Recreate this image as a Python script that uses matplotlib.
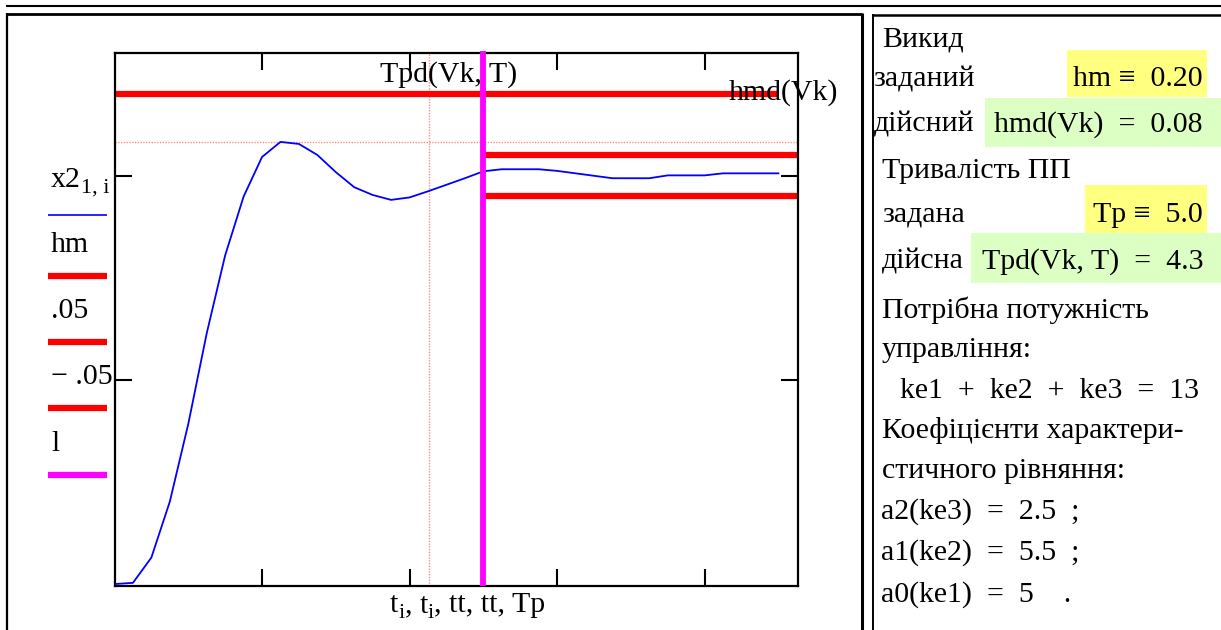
import matplotlib
matplotlib.use("Agg")
import matplotlib.pyplot as plt
from matplotlib.lines import Line2D
from matplotlib.patches import Rectangle

plt.rcParams['font.family'] = ['Liberation Serif', 'DejaVu Serif']
plt.rcParams['mathtext.fontset'] = 'custom'
plt.rcParams['mathtext.rm'] = 'Liberation Serif'
plt.rcParams['mathtext.it'] = 'Liberation Serif'

# ---------------- data ----------------
t = [0, 0.25, 0.5, 0.75, 1.0, 1.25, 1.5, 1.75, 2.0, 2.25, 2.5, 2.75, 3.0,
     3.25, 3.5, 3.75, 4.0, 4.25, 4.5, 4.75, 5.0, 5.25, 5.5, 5.75, 6.0,
     6.25, 6.5, 6.75, 7.0, 7.25, 7.5, 7.75, 8.0, 8.25, 8.5, 8.75, 9.0]
x2 = [0.0, 0.003, 0.065, 0.202, 0.392, 0.614, 0.805, 0.949, 1.046, 1.083,
      1.078, 1.051, 1.009, 0.972, 0.953, 0.941, 0.947, 0.962, 0.978, 0.994,
      1.011, 1.016, 1.016, 1.016, 1.012, 1.006, 1.000, 0.994, 0.994, 0.994,
      1.001, 1.001, 1.001, 1.006, 1.006, 1.006, 1.006]
hm = 0.20          # given overshoot
hmd = 0.082        # actual overshoot
Tp = 5.0           # given settling time
Tpd = 4.26         # actual settling time
band = 0.05
tt = [5.0, 9.27]
ke_sum = 13
a2, a1, a0 = 2.5, 5.5, 5

legend_labels = ['x2', 'hm', '.05', '\u2212 .05', 'l']
legend_subs = ['1, i', '', '', '', '']
legend_colors = ['#0000ff', '#ff0000', '#ff0000', '#ff0000', '#ff00ff']
legend_widths = [1.2, 4.5, 4.5, 4.5, 4.5]

W, H = 1221, 630
fig = plt.figure(figsize=(W / 100, H / 100), dpi=100)


def fx(x):
    return x / W


def fy(y):
    return 1 - y / H


def hline(x0, x1, y, lw, color='black'):
    fig.add_artist(Line2D([fx(x0), fx(x1)], [fy(y), fy(y)], lw=lw, color=color,
                          solid_capstyle='butt', transform=fig.transFigure))


def vline(x, y0, y1, lw, color='black'):
    fig.add_artist(Line2D([fx(x), fx(x)], [fy(y0), fy(y1)], lw=lw, color=color,
                          solid_capstyle='butt', transform=fig.transFigure))


# ---------------- frames ----------------
hline(6, W + 5, 6, 1.5)
hline(6, 862, 13.5, 2.0)
vline(7.5, 12.5, H + 5, 1.6)
vline(861.5, 12.5, H + 5, 2.2)
hline(872, W + 5, 15, 1.8)
vline(873, 14, H + 5, 1.4)

# ---------------- plot ----------------
L, R, T, B = 114.5, 798.3, 53.3, 585.7
ax = fig.add_axes([fx(L), fy(B), (R - L) / W, (B - T) / H])
ax.set_xlim(0, 9.27)
ax.set_ylim(-0.004, 1.30)

dot_color = '#ff8c8c'
ax.axvline(Tpd, color=dot_color, lw=1.0, ls=(0, (1, 1)), zorder=1)
ax.axhline(1 + hmd, color=dot_color, lw=1.0, ls=(0, (1, 1)), zorder=1)

ax.plot(t, x2, color='#0000ff', lw=1.3, zorder=3)
ax.plot([t[0], t[-1]], [1 + hm, 1 + hm], color='#ff0000', lw=4.5,
        solid_capstyle='butt', zorder=2)
ax.plot(tt, [1 + band, 1 + band], color='#ff0000', lw=4.5,
        solid_capstyle='butt', zorder=2)
ax.plot(tt, [1 - band, 1 - band], color='#ff0000', lw=4.5,
        solid_capstyle='butt', zorder=2)
ax.plot([Tp, Tp], [-0.004, 1.305], color='#ff00ff', lw=4.2,
        solid_capstyle='butt', clip_on=False, zorder=4)

ax.set_xticks([2, 4, 6, 8])
ax.set_yticks([0.5, 1.0])
ax.tick_params(direction='in', length=12, width=1.5, top=True, right=True,
               labelbottom=False, labelleft=False, colors='black')
for s in ax.spines.values():
    s.set_linewidth(1.6)
    s.set_color('black')

FS = 21.5
SUB = 16

# marker labels
fig.text(fx(380), fy(82), 'Tpd(Vk, T)', fontsize=FS, va='baseline', ha='left')
fig.text(fx(729), fy(99.3), 'hmd(Vk)', fontsize=FS, va='baseline', ha='left',
         zorder=10)


def with_sub(x, y, main, sub, ha='left'):
    """Draw text with a Mathcad-like subscript right after it."""
    txt = fig.text(fx(x), fy(y), main, fontsize=FS, va='baseline', ha=ha)
    if sub:
        fig.canvas.draw()
        bb = txt.get_window_extent()
        fig.text(bb.x1 / W, fy(y + 6), sub, fontsize=SUB, va='baseline',
                 ha='left')


# legend stack (y axis label)
text_base = [187, 251.7, 318.3, 384.3, 451]
line_y = [215, 275.7, 342.3, 408.3, 475]
for lab, sub, col, lw, yb, yl in zip(legend_labels, legend_subs, legend_colors,
                                     legend_widths, text_base, line_y):
    with_sub(51, yb, lab, sub)
    hline(48, 107, yl, lw, col)

# x label built from parts with subscripts
xparts = [('t', 'i'), (', t', 'i'), (', tt, tt, Tp', '')]
fig.canvas.draw()
xcur = 390
for main, sub in xparts:
    tx = fig.text(fx(xcur), fy(612), main, fontsize=FS, va='baseline', ha='left')
    fig.canvas.draw()
    bb = tx.get_window_extent()
    xcur = bb.x1
    if sub:
        ts = fig.text(fx(xcur), fy(618), sub, fontsize=SUB, va='baseline',
                      ha='left')
        fig.canvas.draw()
        xcur = ts.get_window_extent().x1

# ---------------- right panel ----------------
yellow = '#ffff80'
green = '#dcffc4'


def box(x0, x1, y0, y1, color):
    fig.add_artist(Rectangle((fx(x0), fy(y1)), (x1 - x0) / W, (y1 - y0) / H,
                             transform=fig.transFigure, facecolor=color,
                             edgecolor='none', zorder=0))


box(1066.7, 1206.7, 50, 96.7, yellow)
box(985, W + 2, 98.3, 146.7, green)
box(1085, 1206.7, 185, 233.3, yellow)
box(970.7, W + 2, 233.3, 283.3, green)


def rt(x, y, s, ha='left'):
    fig.text(fx(x), fy(y), s, fontsize=FS, va='baseline', ha=ha, zorder=5)


rt(881.7, 46.7, 'Викид')
rt(873.5, 86, 'заданий')
rt(1203, 86, f'hm \u2261  {hm:.2f}', ha='right')
rt(873.5, 131.7, 'дійсний')
rt(1202, 131.7, f'hmd(Vk)  =  {hmd:.2f}', ha='right')
rt(881.7, 178.3, 'Тривалість ПП')
rt(881.7, 221.7, 'задана')
rt(1203, 221.7, f'Tp \u2261  {Tp:.1f}', ha='right')
rt(881.7, 268.3, 'дійсна')
rt(1203, 268.3, f'Tpd(Vk, T)  =  {Tpd:.1f}', ha='right')
rt(881.7, 318, 'Потрібна потужність')
rt(881.7, 357, 'управління:')
rt(900, 398, f'ke1  +  ke2  +  ke3  =  {ke_sum}')
rt(881.7, 438.3, 'Коефіцієнти характери-')
rt(881.7, 478.3, 'стичного рівняння:')
rt(881, 518.3, f'a2(ke3)  =  {a2}  ;')
rt(881, 560, f'a1(ke2)  =  {a1}  ;')
rt(881, 601.7, f'a0(ke1)  =  {a0}    .')

fig.savefig('out.png', dpi=100)
